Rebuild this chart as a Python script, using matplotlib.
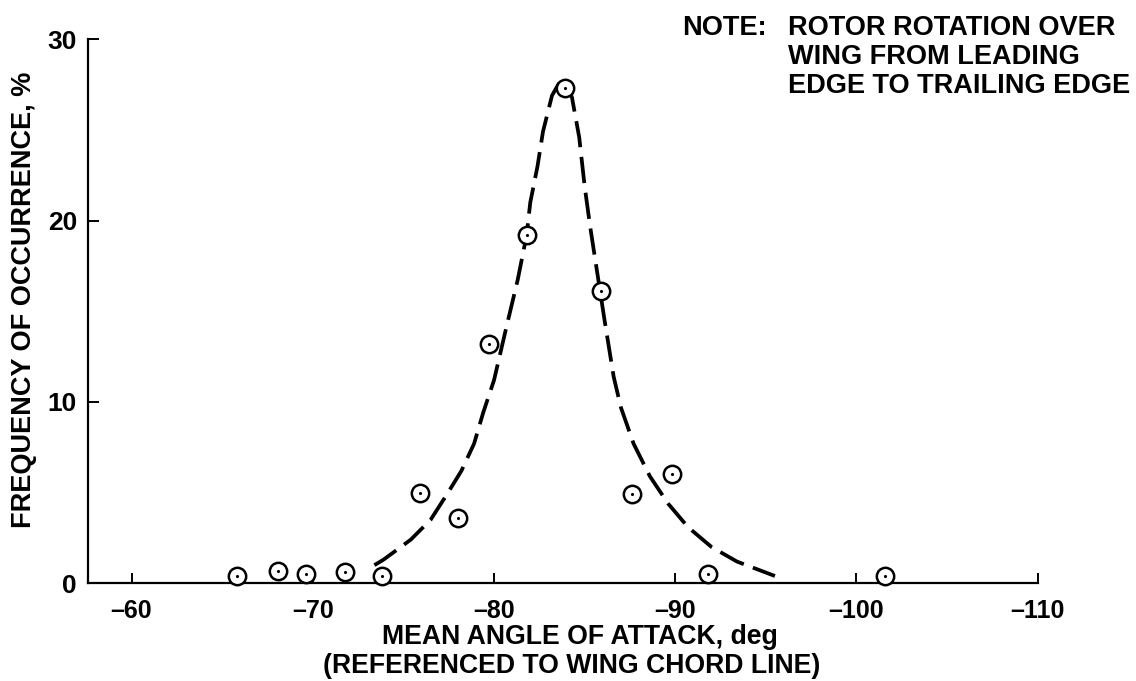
import matplotlib
matplotlib.use("Agg")
import matplotlib.pyplot as plt

# measured points (mean angle of attack, deg / frequency, %)
angle = [-65.8, -68.1, -69.6, -71.8, -73.8, -75.9, -78.0, -79.7,
         -81.8, -83.9, -85.9, -87.6, -89.8, -91.8, -101.6]
freq = [0.4, 0.7, 0.5, 0.6, 0.4, 5.0, 3.6, 13.2,
        19.2, 27.3, 16.1, 4.9, 6.0, 0.5, 0.4]

# faired dashed curve
curve_angle = [-73.4, -73.9, -75.4, -76.5, -77.4, -78.2, -78.9, -79.4, -80.0,
               -80.7, -81.3, -81.8, -82.0, -82.4, -82.7, -83.2, -83.6, -84.0,
               -84.3, -84.7, -85.0, -85.3, -85.7, -86.1, -86.6, -87.0, -87.7,
               -88.6, -89.6, -90.7, -92.0, -93.4, -95.5]
curve_freq = [1.0, 1.3, 2.4, 3.5, 4.9, 6.2, 7.7, 9.4, 11.2,
              14.2, 16.7, 19.2, 21.0, 23.0, 24.9, 26.9, 27.6, 27.5,
              26.8, 24.6, 21.9, 19.7, 17.1, 14.5, 11.4, 9.7, 7.7,
              5.9, 4.4, 3.1, 2.0, 1.2, 0.4]

x_ticks = [-60, -70, -80, -90, -100, -110]
x_tick_labels = ["–60", "–70", "–80", "–90", "–100", "–110"]
y_ticks = [0, 10, 20, 30]

plt.rcParams["font.family"] = ["Liberation Sans", "DejaVu Sans"]
plt.rcParams["font.weight"] = "bold"
plt.rcParams["lines.scale_dashes"] = False

W, H = 1136, 681
fig = plt.figure(figsize=(W / 100, H / 100), dpi=100)
ax = fig.add_axes([0.0775, 0.1435, 0.836, 0.7988])

ax.plot(curve_angle, curve_freq, color="black", lw=2.7,
        dashes=(19, 7), solid_capstyle="butt", zorder=2)
ax.plot(angle, freq, "o", ms=12.5, mfc="white", mec="black", mew=1.8,
        clip_on=False, zorder=3)
ax.plot(angle, freq, ".", ms=2.5, color="black", clip_on=False, zorder=4)

ax.set_xlim(-57.6, -110)
ax.set_ylim(0, 30)
ax.set_xticks(x_ticks)
ax.set_xticklabels(x_tick_labels)
ax.set_yticks(y_ticks)

for side in ["top", "right"]:
    ax.spines[side].set_visible(False)
for side in ["left", "bottom"]:
    ax.spines[side].set_linewidth(1.6)

ax.tick_params(axis="x", direction="in", length=7, width=1.4,
               labelsize=18, pad=11)
ax.tick_params(axis="y", direction="in", length=8, width=1.4,
               labelsize=19, pad=8)

fig.text(580 / W, 1 - 637 / H, "MEAN ANGLE OF ATTACK, deg",
         ha="center", va="center", fontsize=19.2, fontweight="bold")
fig.text(572 / W, 1 - 666 / H, "(REFERENCED TO WING CHORD LINE)",
         ha="center", va="center", fontsize=19.2, fontweight="bold")
fig.text(24 / W, 1 - 300 / H, "FREQUENCY OF OCCURRENCE, %",
         ha="center", va="center", rotation=90, fontsize=19.5,
         fontweight="bold")

note_size = 19.5
fig.text(682 / W, 1 - 28 / H, "NOTE:", ha="left", va="center",
         fontsize=note_size, fontweight="bold")
fig.text(788 / W, 1 - 28 / H, "ROTOR ROTATION OVER", ha="left",
         va="center", fontsize=note_size, fontweight="bold")
fig.text(788 / W, 1 - 57 / H, "WING FROM LEADING", ha="left",
         va="center", fontsize=note_size, fontweight="bold")
fig.text(788 / W, 1 - 86 / H, "EDGE TO TRAILING EDGE", ha="left",
         va="center", fontsize=note_size, fontweight="bold")

fig.savefig("out.png", dpi=100)
